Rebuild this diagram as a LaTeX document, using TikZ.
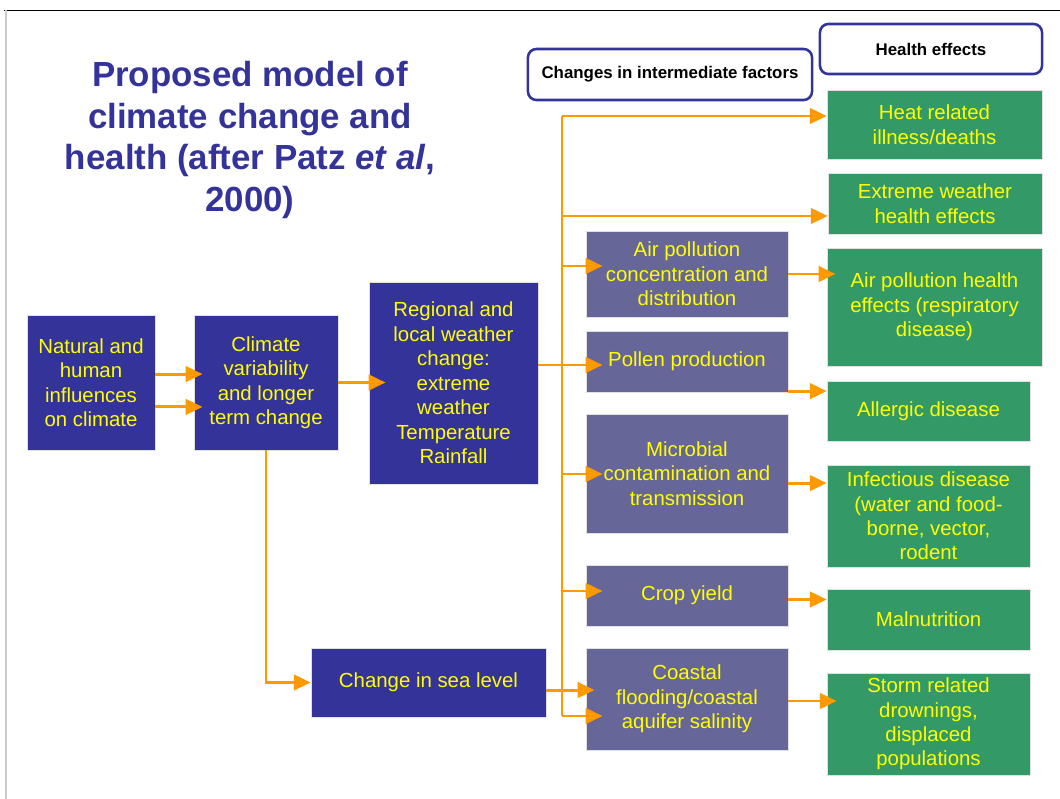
\documentclass[tikz,border=0pt]{standalone}
\usepackage{fontspec}
\setmainfont{Liberation Sans}
\usetikzlibrary{arrows.meta}

\definecolor{navy}{RGB}{51,51,153}
\definecolor{slate}{RGB}{102,102,153}
\definecolor{leaf}{RGB}{51,153,102}
\definecolor{amber}{RGB}{255,153,0}
\definecolor{sunny}{RGB}{255,255,0}

\tikzset{
  box/.style={rectangle, draw=black!12, line width=0.4pt, text=sunny, align=center,
    inner sep=2pt, font=\fontsize{14.5}{17.4}\selectfont},
  cause/.style={box, fill=navy},
  factor/.style={box, fill=slate, minimum width=5.05cm},
  effect/.style={box, fill=leaf},
  header/.style={rectangle, rounded corners=6pt, draw=navy, line width=1.8pt, fill=white,
    font=\fontsize{12}{14}\selectfont\bfseries},
  flow/.style={draw=amber, line width=2.1pt, -{Triangle[length=12pt,width=11pt]}},
  trunk/.style={draw=amber, line width=2.1pt}
}

\begin{document}
\begin{tikzpicture}[x=0.025cm, y=-0.025cm]
\useasboundingbox (0,0) rectangle (1060,799);
% slide frame
\draw[line width=0.7pt] (4,10) -- (1060,10);
\draw[black!20, line width=0.8pt] (6,10) -- (6,799);

\node[text=navy, align=center, font=\fontsize{24.8}{29.8}\selectfont\bfseries] (title) at (250,140)
  {Proposed model of\\climate change and\\health (after Patz \textit{et al},\\2000)};

\node[header, minimum width=7.1cm, minimum height=1.275cm] (midhead) at (670,74.5) {Changes in intermediate factors};
\node[header, minimum width=5.55cm, minimum height=1.25cm] (effhead) at (931,49) {Health effects};

% causes
\node[cause, minimum width=3.2cm, minimum height=3.375cm] (natural) at (91,382.5) {Natural and\\human\\influences\\on climate};
\node[cause, minimum width=3.6cm, minimum height=3.375cm] (climate) at (266,382.5) {Climate\\variability\\and longer\\term change};
\node[cause, minimum width=4.225cm, minimum height=5.05cm] (regional) at (453.5,383) {Regional and\\local weather\\change:\\extreme\\weather\\Temperature\\Rainfall};
\node[cause, minimum width=5.875cm, minimum height=1.725cm] (sea) at (428.5,682.5) {Change in sea level};

% intermediate factors
\node[factor, minimum height=2.15cm] (air) at (687,274) {Air pollution\\concentration and\\distribution};
\node[factor, minimum height=1.525cm] (pollen) at (687,361.5) {Pollen production};
\node[factor, minimum height=2.975cm] (microbial) at (687,473.5) {Microbial\\contamination and\\transmission};
\node[factor, minimum height=1.525cm] (crop) at (687,595.5) {Crop yield};
\node[factor, minimum height=2.55cm] (coastal) at (687,699) {Coastal\\flooding/coastal\\aquifer salinity};

% health effects
\node[effect, minimum width=5.375cm, minimum height=1.725cm] (heat) at (934.5,124.5) {Heat related\\illness/deaths};
\node[effect, minimum width=5.35cm, minimum height=1.525cm] (extreme) at (935,203.5) {Extreme weather\\health effects};
\node[effect, minimum width=5.375cm, minimum height=2.95cm] (airhealth) at (934.5,307) {Air pollution health\\effects (respiratory\\disease)};
\node[effect, minimum width=5.075cm, minimum height=1.5cm] (allergic) at (928.5,411) {Allergic disease};
\node[effect, minimum width=5.075cm, minimum height=2.55cm] (infectious) at (928.5,516) {Infectious disease\\(water and food-\\borne, vector,\\rodent};
\node[effect, minimum width=5.075cm, minimum height=1.525cm] (malnutrition) at (928.5,619.5) {Malnutrition};
\node[effect, minimum width=5.075cm, minimum height=2.55cm] (storm) at (928.5,724) {Storm related\\drownings,\\displaced\\populations};

% connectors
\draw[flow, shorten >=-0.22cm] ([yshift=0.21cm]natural.east) -- ([yshift=0.21cm]natural.east -| climate.west);
\draw[flow, shorten >=-0.22cm] ([yshift=-0.61cm]natural.east) -- ([yshift=-0.61cm]natural.east -| climate.west);
\draw[flow, shorten >=-0.42cm] (climate.east) -- (climate.east -| regional.west);
\draw[flow] (climate.south) |- (sea.west);

\coordinate (t1) at (562,116);
\coordinate (t2) at (562,216);
\coordinate (t3) at (562,266);
\coordinate (tp) at (562,365);
\coordinate (t4) at (562,474);
\coordinate (t5) at (562,591);
\coordinate (t6) at (562,716);
\draw[trunk] (t1) -- (t6);
\draw[trunk] (regional.east |- tp) -- (tp);
\draw[flow] (t1) -- (t1 -| heat.west);
\draw[flow] (t2) -- (t2 -| extreme.west);
\draw[flow, shorten >=-0.42cm] (t3) -- (t3 -| air.west);
\draw[flow, shorten >=-0.42cm] (tp) -- (tp -| pollen.west);
\draw[flow, shorten >=-0.42cm] (t4) -- (t4 -| microbial.west);
\draw[flow, shorten >=-0.42cm] (t5) -- (t5 -| crop.west);
\draw[flow, shorten >=-0.42cm] (t6) -- (t6 -| coastal.west);
\draw[flow, shorten >=-0.22cm] ([yshift=-0.19cm]sea.east) -- ([yshift=-0.19cm]sea.east -| coastal.west);

\draw[flow, shorten >=-0.22cm] (air.east) -- (air.east -| airhealth.west);
\draw[flow] ([yshift=0.03cm]pollen.south east) -- ([yshift=0.03cm]pollen.south east -| allergic.west);
\draw[flow] ([yshift=-0.24cm]microbial.east) -- ([yshift=-0.24cm]microbial.east -| infectious.west);
\draw[flow] ([yshift=-0.1cm]crop.east) -- ([yshift=-0.1cm]crop.east -| malnutrition.west);
\draw[flow, shorten >=-0.25cm] ([yshift=-0.05cm]coastal.east) -- ([yshift=-0.05cm]coastal.east -| storm.west);
\end{tikzpicture}
\end{document}
